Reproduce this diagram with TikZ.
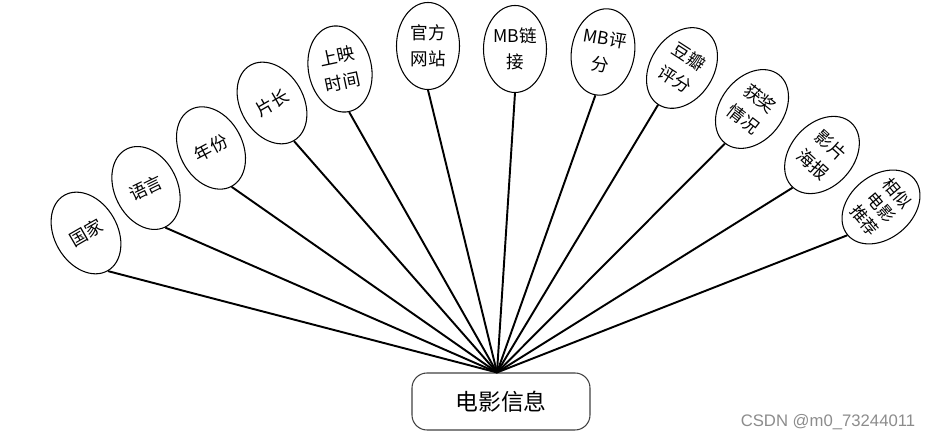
\documentclass[tikz,border=0pt]{standalone}
\usepackage{fontspec}
\newfontfamily\cjk{Noto Sans CJK SC}
\newfontfamily\wmfont{Liberation Sans}
\usetikzlibrary{shapes.geometric}
\tikzset{
  attr/.style={ellipse, draw, line width=0.6pt, minimum width=1.26cm, minimum height=1.74cm,
    inner sep=0pt, align=center, font=\cjk\fontsize{10}{15}\selectfont},
  entity/.style={rectangle, rounded corners=0.3cm, draw=black!75, line width=0.6pt,
    minimum width=3.56cm, minimum height=1.14cm, font=\cjk\fontsize{13}{15}\selectfont},
  link/.style={line width=1.1pt}
}
\begin{document}
\begin{tikzpicture}
    \useasboundingbox (0,0) rectangle (18.9,8.84);
    \node[entity] (info) at (10.02,0.81) {电影信息};
    \coordinate (hub) at ([xshift=-0.08cm]info.north);
    \node[attr, rotate=30] (guojia) at (1.72,4.18) {国家};
    \node[attr, rotate=26] (yuyan) at (2.92,5.08) {语言};
    \node[attr, rotate=28] (nianfen) at (4.22,5.88) {年份};
    \node[attr, rotate=30] (pianchang) at (5.44,6.78) {片长};
    \node[attr, rotate=12] (shangying) at (6.80,7.46) {上映\\时间};
    \node[attr] (guanwang) at (8.56,7.92) {官方\\网站};
    \node[attr] (mblink) at (10.30,7.86) {MB链\\接};
    \node[attr, rotate=-10] (mbscore) at (12.06,7.80) {MB评\\分};
    \node[attr, rotate=-33] (douban) at (13.64,7.48) {豆瓣\\评分};
    \node[attr, rotate=-38] (huojiang) at (15.04,6.66) {获奖\\情况};
    \node[attr, rotate=-42] (haibao) at (16.44,5.74) {影片\\海报};
    \node[attr, rotate=-50, font=\cjk\fontsize{9.5}{12}\selectfont] (xiangsi) at (17.62,4.70) {相似\\电影\\推荐};
    \draw[link] (guojia.south) -- (hub);
    \draw[link] (yuyan.south) -- (hub);
    \draw[link] (nianfen.south) -- (hub);
    \draw[link] (pianchang.south) -- (hub);
    \draw[link] (shangying.south) -- (hub);
    \draw[link] (guanwang.south) -- (hub);
    \draw[link] (mblink.south) -- (hub);
    \draw[link] (mbscore.south) -- (hub);
    \draw[link] (douban.south) -- (hub);
    \draw[link] (huojiang.south) -- (hub);
    \draw[link] (haibao.south) -- (hub);
    \draw[link] (xiangsi.south) -- (hub);
    \node[text=black!45, font=\wmfont\fontsize{9.5}{11}\selectfont] (mark) at (16.56,0.40) {CSDN @m0\_73244011};
\end{tikzpicture}
\end{document}
